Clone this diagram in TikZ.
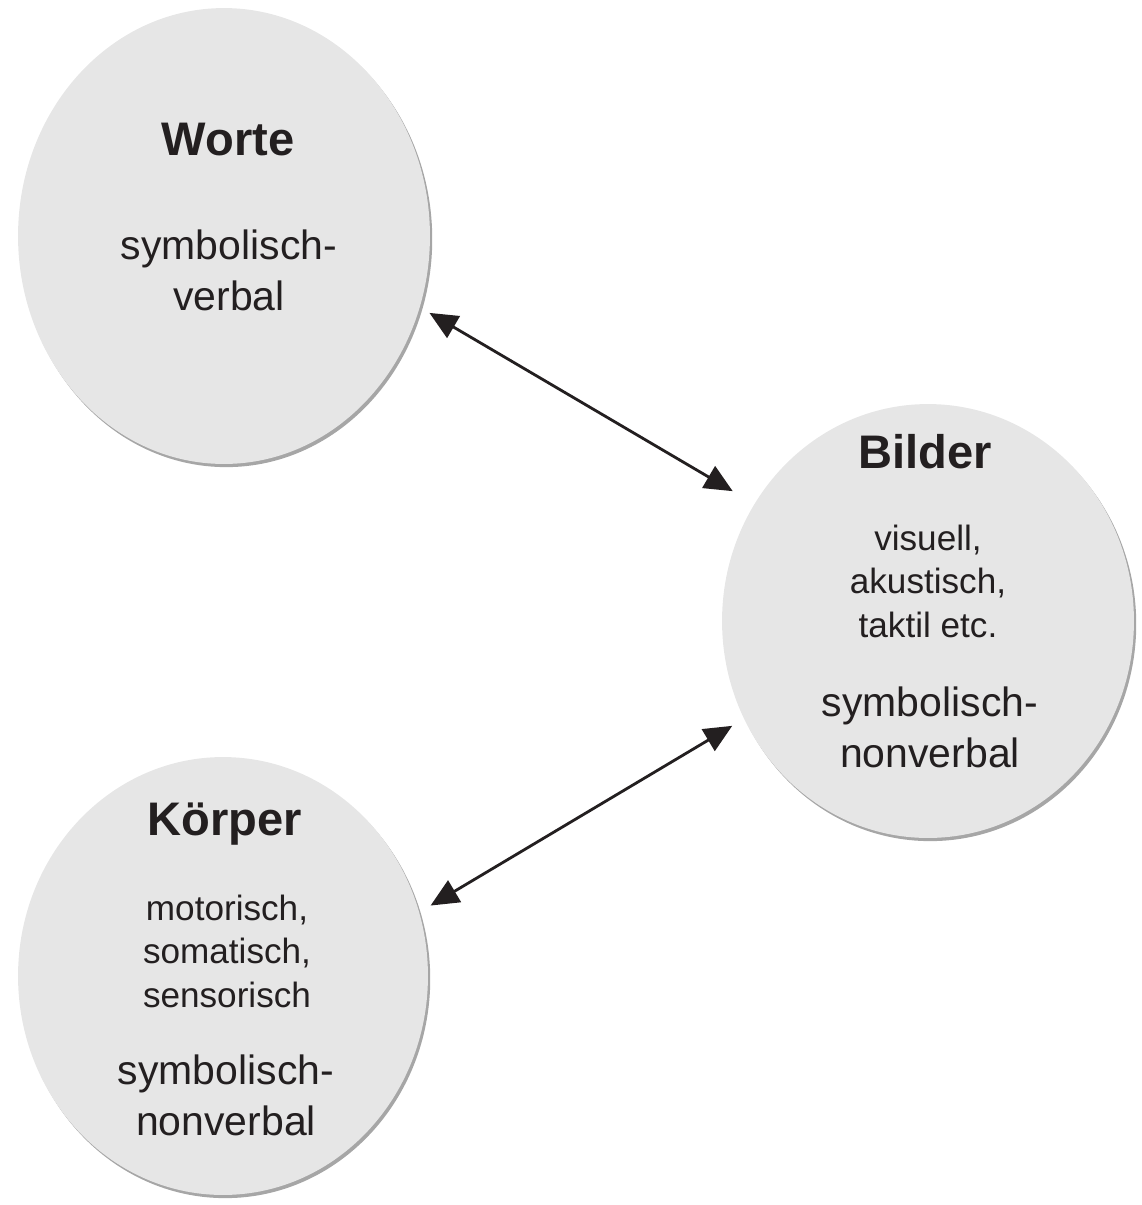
\documentclass[tikz,border=0pt]{standalone}
\usepackage{fontspec}
\setmainfont{Liberation Sans}
\usetikzlibrary{shapes.geometric,arrows.meta,shadows}
\definecolor{bubblegray}{HTML}{E6E6E6}
\definecolor{inkgray}{HTML}{231F20}
\tikzset{
    bubble/.style={ellipse, fill=bubblegray, inner sep=0pt,
        drop shadow={shadow xshift=1.3pt, shadow yshift=-1.8pt, fill=black, opacity=0.35}},
    headline/.style={font=\fontsize{26.8}{32}\selectfont\bfseries, text=inkgray, inner sep=0pt, anchor=base},
    bodytext/.style={font=\fontsize{23.3}{28.5}\selectfont, text=inkgray, align=center, inner sep=0pt, anchor=base},
    smalltext/.style={font=\fontsize{20}{24.5}\selectfont, text=inkgray, align=center, inner sep=0pt, anchor=base},
    twoway/.style={line width=1.6pt, draw=inkgray,
        arrows={Triangle[length=0.56cm,width=0.5cm]-Triangle[length=0.56cm,width=0.5cm]}}
}
\begin{document}
\begin{tikzpicture}[x=0.02cm, y=-0.02cm]
    \useasboundingbox (0,0) rectangle (1142,1205);
    % the three circles
    \node[bubble, minimum width=8.24cm, minimum height=9.12cm] (worte) at (224,236) {};
    \node[bubble, minimum width=8.24cm, minimum height=8.68cm] (bilder) at (928,621) {};
    \node[bubble, minimum width=8.2cm, minimum height=8.76cm] (koerper) at (223,976) {};
    % texts (base = last line)
    \node[headline] (worteTitle) at (228,155) {Worte};
    \node[bodytext] (worteMode) at (229,310) {symbolisch-\\verbal};
    \node[headline] (bilderTitle) at (925,468) {Bilder};
    \node[smalltext] (bilderSenses) at (928,637) {visuell,\\akustisch,\\taktil etc.};
    \node[bodytext] (bilderMode) at (930,767) {symbolisch-\\nonverbal};
    \node[headline] (koerperTitle) at (225,835) {Körper};
    \node[smalltext] (koerperSenses) at (227,1007) {motorisch,\\somatisch,\\sensorisch};
    \node[bodytext] (koerperMode) at (226,1135) {symbolisch-\\nonverbal};
    % arrows
    \draw[twoway, shorten <=0.22cm, shorten >=0.5cm] (worte.-20.2) -- (bilder.146.5);
    \draw[twoway, shorten <=0.26cm, shorten >=0.27cm] (koerper.18) -- (bilder.208.5);
\end{tikzpicture}
\end{document}
